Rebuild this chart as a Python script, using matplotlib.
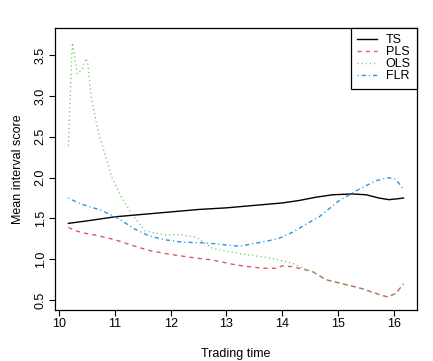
import matplotlib
matplotlib.use("Agg")
import matplotlib.pyplot as plt

plt.rcParams['font.family'] = ['Liberation Sans', 'DejaVu Sans']

# values
ts_x = [10.17, 10.5, 11.0, 11.5, 12.0, 12.5, 13.0, 13.5, 14.0, 14.3, 14.6, 14.9, 15.25, 15.5, 15.73, 15.91, 16.05, 16.17]
ts_y = [1.44, 1.47, 1.52, 1.55, 1.58, 1.61, 1.63, 1.66, 1.69, 1.72, 1.76, 1.79, 1.80, 1.79, 1.75, 1.73, 1.74, 1.75]

pls_x = [10.17, 10.3, 10.46, 10.7, 11.0, 11.36, 11.66, 12.0, 12.4, 12.76, 13.17, 13.65, 13.89, 14.0, 14.18, 14.3,
         14.54, 14.78, 15.08, 15.43, 15.73, 15.88, 16.03, 16.17]
pls_y = [1.39, 1.35, 1.32, 1.29, 1.24, 1.16, 1.10, 1.06, 1.02, 0.99, 0.93, 0.89, 0.89, 0.92, 0.91, 0.89,
         0.85, 0.75, 0.70, 0.64, 0.57, 0.54, 0.58, 0.70]

ols_x = [10.17, 10.24, 10.29, 10.33, 10.42, 10.45, 10.49, 10.52, 10.58, 10.70, 10.95, 11.12, 11.30, 11.54, 11.89,
         12.2, 12.46, 12.76, 13.23, 13.83, 14.18, 14.45, 14.54, 14.78, 15.08, 15.43, 15.73, 15.88, 16.03, 16.17]
ols_y = [2.39, 3.65, 3.45, 3.27, 3.33, 3.41, 3.46, 3.39, 2.98, 2.57, 2.0, 1.76, 1.56, 1.35, 1.30,
         1.30, 1.27, 1.13, 1.07, 1.01, 0.95, 0.87, 0.85, 0.75, 0.70, 0.64, 0.57, 0.54, 0.58, 0.70]

flr_x = [10.17, 10.35, 10.52, 10.76, 11.06, 11.36, 11.6, 11.89, 12.2, 12.64, 13.23, 13.71, 13.95, 14.18, 14.45,
         14.66, 15.02, 15.38, 15.67, 15.88, 16.03, 16.12, 16.17]
flr_y = [1.75, 1.69, 1.65, 1.60, 1.50, 1.37, 1.29, 1.24, 1.21, 1.20, 1.16, 1.22, 1.26, 1.33, 1.44,
         1.52, 1.72, 1.86, 1.96, 2.00, 1.98, 1.90, 1.85]

x_ticks = [10, 11, 12, 13, 14, 15, 16]
y_ticks = [0.5, 1.0, 1.5, 2.0, 2.5, 3.0, 3.5]

fig = plt.figure(figsize=(4.33, 3.61), dpi=100)
ax = fig.add_axes([0.127, 0.141, 0.836, 0.781])

lw = 1.0
ax.plot(ts_x, ts_y, color='black', lw=lw, label='TS')
ax.plot(pls_x, pls_y, color='#DF536B', lw=lw, dashes=(3, 3), label='PLS')
ax.plot(ols_x, ols_y, color='#61D04F', lw=lw, dashes=(0.8, 2.2), label='OLS')
ax.plot(flr_x, flr_y, color='#2297E6', lw=lw, dashes=(0.8, 2.2, 3, 2.2), label='FLR')

ax.set_xlim(9.93, 16.41)
ax.set_ylim(0.378, 3.83)
ax.set_xticks(x_ticks)
ax.set_xticklabels([str(t) for t in x_ticks])
ax.set_yticks(y_ticks)
ax.set_yticklabels([str(t) for t in y_ticks], rotation=90, va='center')

fs = 9
ax.tick_params(direction='out', length=4, width=0.8, labelsize=fs, pad=2)
for s in ax.spines.values():
    s.set_linewidth(0.9)

ax.set_xlabel('Trading time', fontsize=fs, labelpad=12.5)
ax.set_ylabel('Mean interval score', fontsize=fs, labelpad=8)

leg = ax.legend(loc='upper right', fontsize=fs, frameon=True, fancybox=False, framealpha=1,
                edgecolor='black', borderaxespad=0, handlelength=1.6, handletextpad=0.7,
                labelspacing=0.0, borderpad=0.5)
leg.get_frame().set_linewidth(0.9)

fig.savefig('out.png', dpi=100)
